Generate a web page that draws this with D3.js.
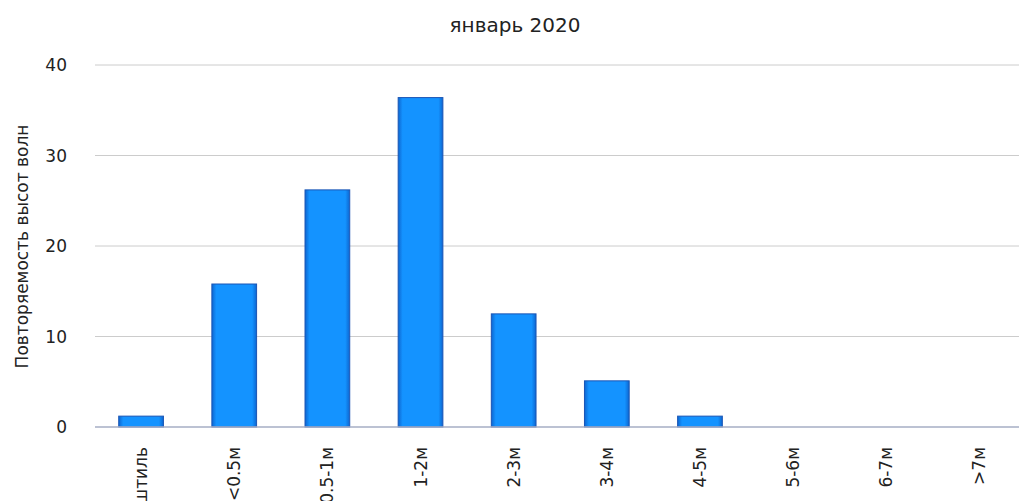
<!DOCTYPE html>
<html>
<head>
<meta charset="utf-8">
<script src="https://cdn.jsdelivr.net/npm/d3@7"></script>
<style>
  body { margin: 0; background: #fff; font-family: "DejaVu Sans", Verdana, sans-serif; }
  svg { display: block; }
</style>
</head>
<body>
<div id="app"></div>
<script>
const categories = ['штиль', '<0.5м', '0.5-1м', '1-2м', '2-3м', '3-4м', '4-5м', '5-6м', '6-7м', '>7м']
const values = [1.2, 15.8, 26.2, 36.4, 12.5, 5.1, 1.2, 0, 0, 0]
const yTicks = [0, 10, 20, 30, 40]

const size = { width: 1019, height: 501 }
const plot = { left: 94.5, right: 1026, top: 65, bottom: 427 }

const svg = d3.select('#app').append('svg')
  .attr('width', size.width)
  .attr('height', size.height)

const defs = svg.append('defs')
const grad = defs.append('linearGradient').attr('id', 'barGrad')
  .attr('x1', 0).attr('x2', 1).attr('y1', 0).attr('y2', 0)
grad.append('stop').attr('offset', '0%').attr('stop-color', '#0d66d0')
grad.append('stop').attr('offset', '10%').attr('stop-color', '#1493ff')
grad.append('stop').attr('offset', '90%').attr('stop-color', '#1493ff')
grad.append('stop').attr('offset', '100%').attr('stop-color', '#0d66d0')

const x = d3.scaleBand().domain(categories).range([plot.left, plot.right]).paddingInner(0.52).paddingOuter(0.26)
const y = d3.scaleLinear().domain([0, 40]).range([plot.bottom, plot.top])

// grid
svg.append('g').selectAll('line')
  .data(yTicks.filter(d => d > 0))
  .enter().append('line')
  .attr('x1', 95).attr('x2', size.width)
  .attr('y1', d => y(d)).attr('y2', d => y(d))
  .attr('stroke', '#cccccc').attr('stroke-width', 1)

// y tick labels
svg.append('g').selectAll('text')
  .data(yTicks)
  .enter().append('text')
  .attr('x', 67).attr('y', d => y(d) + 6)
  .attr('text-anchor', 'end')
  .attr('font-size', 17).attr('fill', '#222')
  .text(d => d)

// bars
svg.append('g').selectAll('rect')
  .data(categories.map((c, i) => ({ c, v: values[i] })).filter(d => d.v > 0))
  .enter().append('rect')
  .attr('x', d => x(d.c))
  .attr('y', d => y(d.v))
  .attr('width', x.bandwidth())
  .attr('height', d => y(0) - y(d.v))
  .attr('fill', 'url(#barGrad)')
  .attr('stroke', '#1a55b5').attr('stroke-width', 1)

// baseline
svg.append('line')
  .attr('x1', 95).attr('x2', size.width)
  .attr('y1', y(0)).attr('y2', y(0))
  .attr('stroke', '#a6aec4').attr('stroke-width', 1.5)

// x labels
svg.append('g').selectAll('text')
  .data(categories)
  .enter().append('text')
  .attr('transform', d => `translate(${x(d) + x.bandwidth() / 2 + 6},447) rotate(-90)`)
  .attr('text-anchor', 'end')
  .attr('font-size', 17).attr('fill', '#222')
  .text(d => d)

// title
svg.append('text')
  .attr('x', 515).attr('y', 32)
  .attr('text-anchor', 'middle')
  .attr('font-size', 20).attr('fill', '#222')
  .text('январь 2020')

// y axis title
svg.append('text')
  .attr('transform', `translate(28,${(125 + 368) / 2}) rotate(-90)`)
  .attr('text-anchor', 'middle')
  .attr('font-size', 17).attr('fill', '#222')
  .text('Повторяемость высот волн')
</script>
</body>
</html>
